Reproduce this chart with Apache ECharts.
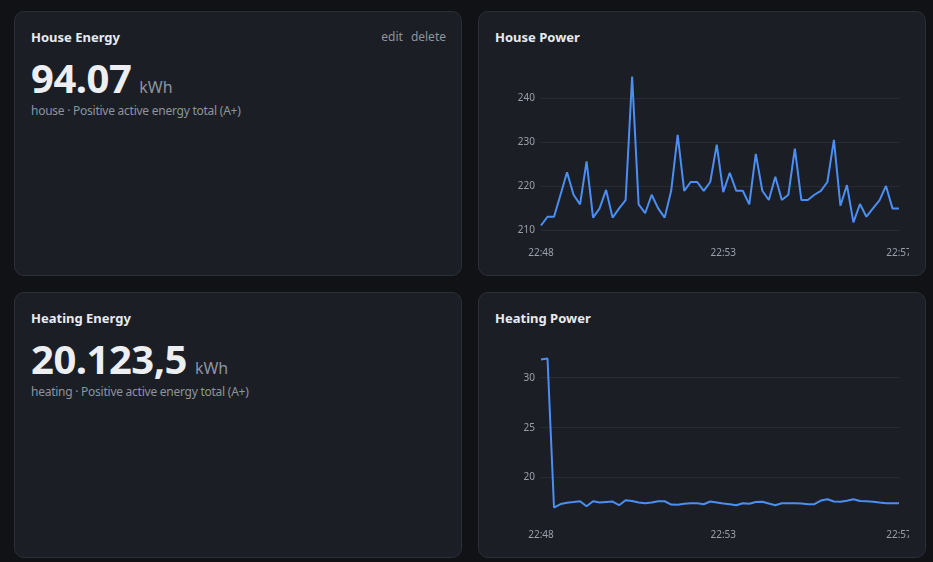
<!DOCTYPE html>
<html>
<head>
<meta charset="utf-8">
<script src="https://cdn.jsdelivr.net/npm/echarts@6.0.0/dist/echarts.min.js"></script>
<style>
  html, body { margin: 0; padding: 0; }
  body {
    width: 933px; height: 562px; overflow: hidden; position: relative;
    background: #111216; font-family: 'Noto Sans', 'Open Sans', sans-serif;
  }
  .card {
    position: absolute; box-sizing: border-box; width: 448px;
    background: #1b1e25; border: 1px solid #2b2f38; border-radius: 10px;
  }
  .title {
    position: absolute; left: 16px; top: 16px; margin: 0;
    font-size: 13px; font-weight: 700; color: #e8eaef; line-height: 18px;
  }
  .actions {
    position: absolute; right: 15px; top: 16px;
    font-size: 12px; color: #8e949f; line-height: 18px;
  }
  .actions span { margin-left: 8px; }
  .value {
    position: absolute; left: 16px; top: 46px; line-height: 40px; white-space: nowrap;
  }
  .value b { font-size: 40px; font-weight: 700; color: #eceef2; letter-spacing: -0.5px; }
  .value small { font-size: 16px; color: #8e949f; margin-left: 8px; }
  .sub {
    position: absolute; left: 16px; top: 90px;
    font-size: 12px; color: #8e949f; line-height: 18px; letter-spacing: -0.25px;
  }
  .chart { position: absolute; left: 15px; width: 415px; height: 204px; }
</style>
</head>
<body>

<div class="card" style="left:14px; top:11px; height:265px;">
  <div class="title">House Energy</div>
  <div class="actions"><span>edit</span><span>delete</span></div>
  <div class="value"><b id="houseEnergy"></b><small>kWh</small></div>
  <div class="sub">house · Positive active energy total (A+)</div>
</div>

<div class="card" style="left:478px; top:11px; height:265px;">
  <div class="title">House Power</div>
  <div class="chart" id="housePower" style="top:49px;"></div>
</div>

<div class="card" style="left:14px; top:292px; height:266px;">
  <div class="title">Heating Energy</div>
  <div class="value"><b id="heatingEnergy"></b><small>kWh</small></div>
  <div class="sub">heating · Positive active energy total (A+)</div>
</div>

<div class="card" style="left:478px; top:292px; height:266px;">
  <div class="title">Heating Power</div>
  <div class="chart" id="heatingPower" style="top:50px;"></div>
</div>

<script>
const houseEnergy = '94.07';
const heatingEnergy = '20.123,5';

const times = [
  '22:48:25', '22:48:35', '22:48:45', '22:48:55',
  '22:49:05', '22:49:15', '22:49:25', '22:49:35', '22:49:45', '22:49:55',
  '22:50:05', '22:50:15', '22:50:25', '22:50:35', '22:50:45', '22:50:55',
  '22:51:05', '22:51:15', '22:51:25', '22:51:35', '22:51:45', '22:51:55',
  '22:52:05', '22:52:15', '22:52:25', '22:52:35', '22:52:45', '22:52:55',
  '22:53:05', '22:53:15', '22:53:25', '22:53:35', '22:53:45', '22:53:55',
  '22:54:05', '22:54:15', '22:54:25', '22:54:35', '22:54:45', '22:54:55',
  '22:55:05', '22:55:15', '22:55:25', '22:55:35', '22:55:45', '22:55:55',
  '22:56:05', '22:56:15', '22:56:25', '22:56:35', '22:56:45', '22:56:55',
  '22:57:05', '22:57:15', '22:57:25', '22:57:35'
];

// which time labels are shown under the charts (first, middle, last)
const shownTimeIdx = [0, 28, 55];

const housePower = [
  211.0, 213.0, 213.0, 218.0, 223.1, 218.0, 215.8, 225.6, 212.8, 214.9,
  219.1, 212.8, 214.9, 216.8, 244.9, 215.8, 213.8, 218.0, 214.9, 212.8,
  218.9, 231.6, 218.9, 220.9, 220.9, 218.9, 220.9, 229.4, 218.6, 223.0,
  218.9, 218.9, 215.8, 227.3, 218.9, 216.8, 222.1, 216.8, 218.0, 228.5,
  216.8, 216.8, 218.0, 218.9, 220.9, 230.5, 215.5, 220.2, 211.7, 215.9,
  213.0, 214.9, 216.7, 220.0, 214.9, 214.9
];

const heatingPower = [
  31.83, 31.93, 17.00, 17.35, 17.48, 17.55, 17.63, 17.13, 17.63, 17.50,
  17.55, 17.60, 17.23, 17.73, 17.65, 17.50, 17.43, 17.50, 17.63, 17.63,
  17.30, 17.28, 17.38, 17.43, 17.43, 17.33, 17.60, 17.50, 17.40, 17.33,
  17.23, 17.43, 17.38, 17.55, 17.58, 17.40, 17.23, 17.43, 17.43, 17.43,
  17.40, 17.33, 17.33, 17.70, 17.83, 17.60, 17.58, 17.68, 17.83, 17.65,
  17.63, 17.58, 17.50, 17.43, 17.43, 17.43
];

document.getElementById('houseEnergy').textContent = houseEnergy;
document.getElementById('heatingEnergy').textContent = heatingEnergy;

function powerChart(domId, values, step) {
  const chart = echarts.init(document.getElementById(domId));
  const pad = v => (v.max - v.min) * 0.03;
  const option = {
    animation: false,
    textStyle: { fontFamily: 'Noto Sans' },
    grid: { left: 47, right: 10, top: 11, bottom: 35, outerBoundsMode: 'none', containLabel: false },
    xAxis: {
      type: 'category',
      data: times,
      boundaryGap: false,
      axisLine: { show: false },
      axisTick: { show: false },
      splitLine: { show: false },
      axisLabel: {
        color: '#9aa0aa',
        fontSize: 10,
        margin: 18,
        interval: idx => shownTimeIdx.includes(idx),
        formatter: v => v.slice(0, 5)
      }
    },
    yAxis: {
      type: 'value',
      min: v => v.min - pad(v),
      max: v => v.max + pad(v),
      splitNumber: 3,
      axisLine: { show: false },
      axisTick: { show: false },
      axisLabel: {
        color: '#9aa0aa',
        fontSize: 10,
        margin: 6,
        showMinLabel: false,
        showMaxLabel: false,
        formatter: v => (v % step === 0 ? String(v) : '')
      },
      splitLine: {
        showMinLine: false,
        showMaxLine: false,
        lineStyle: { color: '#272b34', width: 1 }
      }
    },
    series: [{
      type: 'line',
      data: values,
      showSymbol: false,
      symbol: 'none',
      lineStyle: { color: '#4b8ef4', width: 2 },
      itemStyle: { color: '#4b8ef4' }
    }]
  };
  chart.setOption(option);
  return chart;
}

powerChart('housePower', housePower, 10);
powerChart('heatingPower', heatingPower, 5);
</script>
</body>
</html>
